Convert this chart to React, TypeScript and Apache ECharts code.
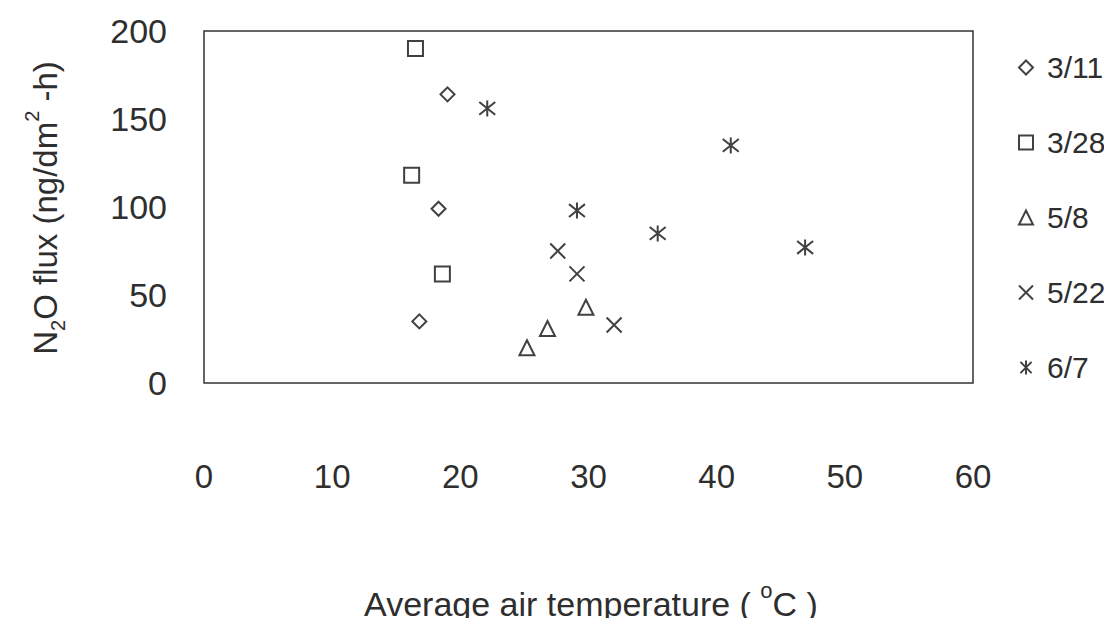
import React, { useEffect, useRef } from "react";
import * as echarts from "echarts";

const xTicks = [0, 10, 20, 30, 40, 50, 60];
const yTicks = [0, 50, 100, 150, 200];

const seriesNames = ["3/11", "3/28", "5/8", "5/22", "6/7"];
const d0311: number[][] = [[19.0, 164], [18.3, 99], [16.8, 35]];
const d0328: number[][] = [[16.5, 190], [16.2, 118], [18.6, 62]];
const d0508: number[][] = [[25.2, 20], [26.8, 31], [29.8, 43]];
const d0522: number[][] = [[27.6, 75], [29.1, 62], [32.0, 33]];
const d0607: number[][] = [[22.1, 156], [41.1, 135], [29.1, 98], [35.4, 85], [46.9, 77]];

const FONT = "'Liberation Sans', Arial, sans-serif";
const INK = "#2e2e2e";

const symbols = [
  "diamond",
  "rect",
  "triangle",
  "path://M1,1L9,9M9,1L1,9",
  "path://M1,1L9,9M9,1L1,9M5,0L5,10",
];
const sizes = [14, 15, 15, 15, 16];
const datasets = [d0311, d0328, d0508, d0522, d0607];

export default function App() {
  const ref = useRef<HTMLDivElement>(null);
  useEffect(() => {
    if (!ref.current) return;
    const chart = echarts.init(ref.current, undefined, { renderer: "svg" });
    chart.setOption({
      animation: false,
      backgroundColor: "#ffffff",
      grid: {
        left: 204,
        right: 139,
        top: 31,
        bottom: 243,
        show: true,
        borderColor: "#333",
        borderWidth: 1.5,
      },
      xAxis: {
        type: "value",
        min: xTicks[0],
        max: xTicks[xTicks.length - 1],
        interval: 10,
        axisLine: { show: false },
        axisTick: { show: false },
        splitLine: { show: false },
        axisLabel: { margin: 77, fontSize: 33, color: INK, fontFamily: FONT },
      },
      yAxis: {
        type: "value",
        min: yTicks[0],
        max: yTicks[yTicks.length - 1],
        interval: 50,
        axisLine: { show: false },
        axisTick: { show: false },
        splitLine: { show: false },
        axisLabel: { margin: 37, fontSize: 34, color: INK, fontFamily: FONT },
      },
      legend: {
        orient: "vertical",
        left: 1013,
        top: 47,
        itemWidth: 14,
        itemHeight: 14,
        itemGap: 44,
        textStyle: {
          fontSize: 30,
          lineHeight: 31,
          color: INK,
          fontFamily: FONT,
          padding: [0, 0, 0, 9],
        },
        data: seriesNames,
      },
      series: seriesNames.map((name, i) => ({
        name,
        type: "scatter",
        symbol: symbols[i],
        symbolSize: sizes[i],
        data: datasets[i],
        itemStyle: {
          color: "transparent",
          borderColor: "#111",
          borderWidth: 2,
        },
      })),
      graphic: [
        {
          type: "text",
          x: 45,
          y: 208,
          rotation: Math.PI / 2,
          style: {
            text: "N{sub|2}O flux (ng/dm{sup|2} -h)",
            fontSize: 33,
            fontFamily: FONT,
            fill: INK,
            align: "center",
            verticalAlign: "middle",
            lineHeight: 46,
            rich: {
              sub: { fontSize: 20, fontFamily: FONT, fill: INK, verticalAlign: "bottom", lineHeight: 20 },
              sup: { fontSize: 20, fontFamily: FONT, fill: INK, verticalAlign: "top", lineHeight: 20 },
            },
          },
        },
        {
          type: "text",
          x: 591,
          y: 604,
          style: {
            text: "Average air temperature ( {sup|o}C )",
            fontSize: 34,
            fontFamily: FONT,
            fill: INK,
            align: "center",
            verticalAlign: "middle",
            lineHeight: 50,
            rich: {
              sup: { fontSize: 22, fontFamily: FONT, fill: INK, verticalAlign: "top", lineHeight: 22 },
            },
          },
        },
      ],
    });
    return () => chart.dispose();
  }, []);
  return <div ref={ref} style={{ width: 1112, height: 626, margin: -8 }} />;
}
